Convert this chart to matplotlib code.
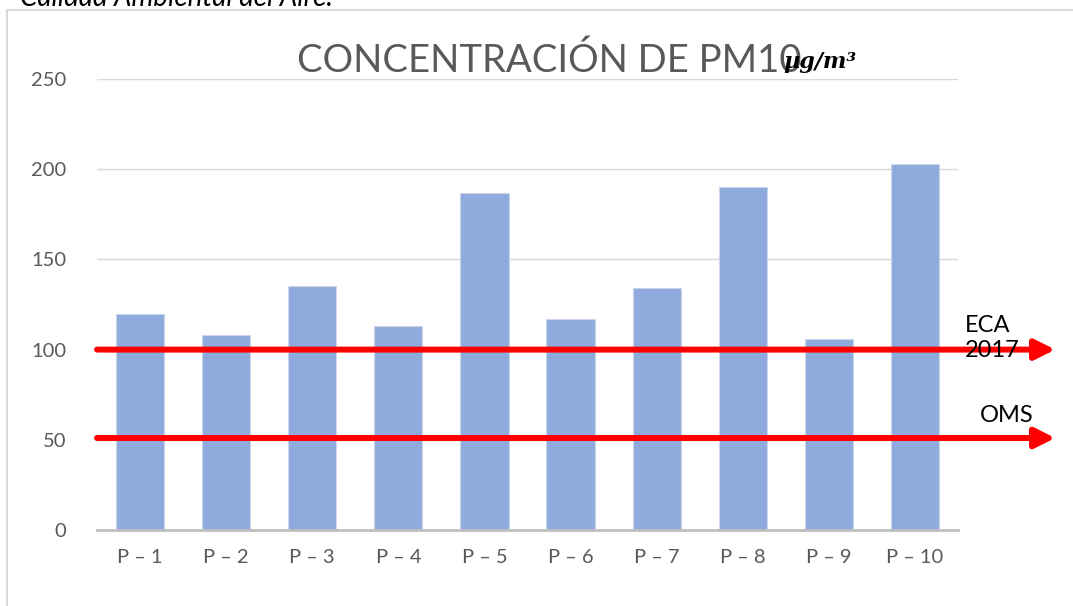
import matplotlib
matplotlib.use("Agg")
import matplotlib.pyplot as plt
from matplotlib.lines import Line2D

# data
puntos = ["P – 1", "P – 2", "P – 3", "P – 4", "P – 5",
          "P – 6", "P – 7", "P – 8", "P – 9", "P – 10"]
pm10 = [120, 108, 135, 113, 187, 117, 134, 190, 106, 203]
eca_2017 = 100
oms = 51
y_ticks = [0, 50, 100, 150, 200, 250]

W, H = 1073, 606
plt.rcParams['font.family'] = ['Lato', 'DejaVu Sans']

fig = plt.figure(figsize=(W / 100, H / 100), dpi=100)
ax = fig.add_axes([97 / W, 1 - 530 / H, 861 / W, 451 / H])

x = range(len(puntos))
ax.bar(x, pm10, width=0.56, color="#8faadc", edgecolor="#c9d6ee", linewidth=0.8, zorder=2)

ax.set_xlim(-0.5, len(puntos) - 0.5)
ax.set_ylim(0, 250)
ax.set_yticks(y_ticks)
ax.set_xticks(list(x))
ax.set_xticklabels(puntos)
ax.tick_params(axis='both', length=0, labelsize=14.5, colors="#595959", pad=14)
ax.tick_params(axis='y', pad=22)
ax.grid(axis='y', color="#d9d9d9", linewidth=1, zorder=0)
for s in ["top", "right", "left"]:
    ax.spines[s].set_visible(False)
ax.spines["bottom"].set_color("#bfbfbf")
ax.spines["bottom"].set_linewidth(2)
ax.spines["bottom"].set_zorder(3)

# limit arrows
for val in (eca_2017, oms):
    ax.annotate("", xy=(1.113, val), xytext=(0, val),
                xycoords=ax.get_yaxis_transform(),
                textcoords=ax.get_yaxis_transform(),
                arrowprops=dict(arrowstyle="-|>", color="red", lw=4.3,
                                mutation_scale=30, shrinkA=0, shrinkB=0),
                zorder=4)

ax.text(1.008, 96, "ECA\n2017", transform=ax.get_yaxis_transform(),
        fontsize=17, color="black", va="baseline", ha="left",
        linespacing=1.25, zorder=5)
ax.text(1.025, 60, "OMS", transform=ax.get_yaxis_transform(),
        fontsize=17, color="black", va="baseline", ha="left", zorder=5)

# title
fig.text(297 / W, 1 - 72 / H, "CONCENTRACIÓN DE PM10", fontsize=27.5,
         color="#595959", ha="left", va="baseline")
fig.text(783 / W, 1 - 68 / H, "µg/m³", fontsize=16, family="DejaVu Serif",
         style="italic", fontweight="bold", color="black",
         ha="left", va="baseline")

# cut-off caption at top and frame
fig.text(333 / W, 1 - 6 / H, "Calidad Ambiental del Aire.", fontsize=20,
         style="italic", color="black", ha="right", va="baseline")
fig.add_artist(Line2D([7 / W, 7 / W], [0, 1 - 10 / H], color="#d9d9d9", lw=1.5))
fig.add_artist(Line2D([7 / W, 1], [1 - 10 / H, 1 - 10 / H], color="#d9d9d9", lw=1.5))

fig.savefig("out.png", dpi=100)
